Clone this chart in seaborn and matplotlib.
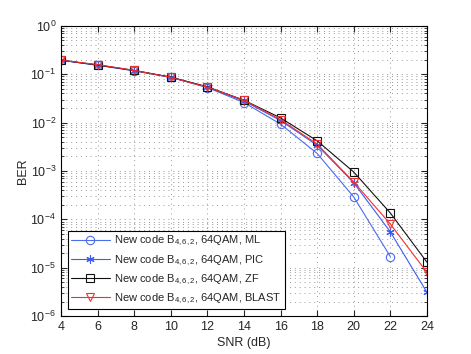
import numpy as np
import pandas as pd
import matplotlib
matplotlib.use('Agg')
import matplotlib.pyplot as plt
import seaborn as sns

# SNR axis and BER curves
snr = [4, 6, 8, 10, 12, 14, 16, 18, 20, 22, 24]
ber_ml = [0.195, 0.155, 0.118, 0.086, 0.053, 0.026, 0.0093, 0.0023, 2.9e-4, 1.7e-5]
ber_pic = [0.195, 0.153, 0.118, 0.087, 0.054, 0.028, 0.011, 0.0034, 5.7e-4, 5.5e-5, 3.1e-6]
ber_zf = [0.195, 0.155, 0.12, 0.087, 0.055, 0.029, 0.0125, 0.0042, 9.5e-4, 1.35e-4, 1.3e-5]
ber_blast = [0.195, 0.158, 0.12, 0.086, 0.054, 0.029, 0.0115, 0.0036, 5.9e-4, 8.0e-5, 8.0e-6]

labels = ['New code B$_{4,6,2}$, 64QAM, ML',
          'New code B$_{4,6,2}$, 64QAM, PIC',
          'New code B$_{4,6,2}$, 64QAM, ZF',
          'New code B$_{4,6,2}$, 64QAM, BLAST']
colors = ['#4a6cf0', '#3c5cf5', '#111111', '#f03030']
markers = ['o', (6, 2, 0), 's', 'v']
curves = [ber_ml, ber_pic, ber_zf, ber_blast]

sns.set_style('ticks')
plt.rcParams['font.family'] = ['Liberation Sans', 'DejaVu Sans']
plt.rcParams['mathtext.fontset'] = 'custom'
plt.rcParams['mathtext.rm'] = 'Liberation Sans'
plt.rcParams['mathtext.it'] = 'Liberation Sans'
plt.rcParams['font.size'] = 9

fig = plt.figure(figsize=(4.71, 3.54), dpi=100)
ax = fig.add_axes([0.1295, 0.107, 0.777, 0.82])

for lab, c, m, y in zip(labels, colors, markers, curves):
    df = pd.DataFrame({'SNR': snr[:len(y)], 'BER': y})
    sns.lineplot(data=df, x='SNR', y='BER', ax=ax, color=c, marker=m,
                 mfc='none', mec=c, ms=6,
                 mew=0.8, lw=0.8, label=lab)

ax.set_yscale('log')
ax.set_xlim(4, 24)
ax.set_ylim(1e-6, 1)
ax.set_xticks(np.arange(4, 25, 2))
ax.set_xlabel('SNR (dB)', fontsize=9, labelpad=3)
ax.set_ylabel('BER', fontsize=9, labelpad=1)

ax.grid(True, which='major', ls=(0, (1, 4)), color='#999999', lw=0.7)
ax.grid(True, which='minor', axis='y', ls=(0, (1, 4)), color='#999999', lw=0.7)
ax.tick_params(which='both', direction='in', top=True, right=True, labelsize=9)
ax.tick_params(which='major', length=4)
ax.tick_params(which='minor', length=2)
for s in ax.spines.values():
    s.set_linewidth(0.8)
    s.set_color('black')

leg = ax.legend(loc='lower left', fontsize=8, frameon=True, fancybox=False,
                edgecolor='black', framealpha=1, borderaxespad=0.6,
                handlelength=3.5, labelspacing=0.45, borderpad=0.3,
                handletextpad=0.4)
leg.get_frame().set_linewidth(0.8)

fig.savefig('out.png', dpi=100)
